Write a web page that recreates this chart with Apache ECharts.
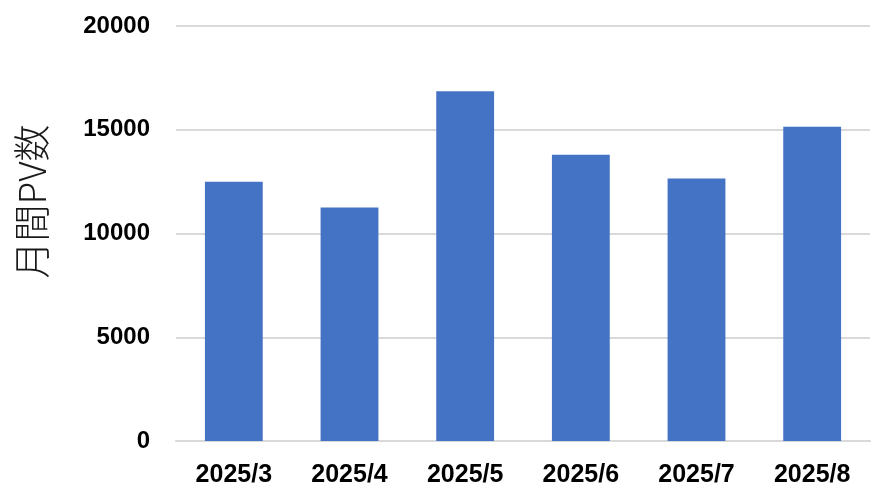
<!DOCTYPE html>
<html><head><meta charset="utf-8">
<script src="https://cdn.jsdelivr.net/npm/echarts@6/dist/echarts.min.js"></script>
<style>html,body{margin:0;padding:0;background:#fff}#c{width:894px;height:504px}</style>
</head><body><div id="c"></div>
<script>
const categories = ['2025/3','2025/4','2025/5','2025/6','2025/7','2025/8'];
const pvValues = [12500, 11250, 16850, 13800, 12650, 15150];
const yTicks = [0, 5000, 10000, 15000, 20000];
const yAxisTitle = '月間PV数';

const chart = echarts.init(document.getElementById('c'), null, {renderer:'canvas'});
chart.setOption({
  animation:false,
  grid:{left:176, right:24, top:26, bottom:63, containLabel:false},
  xAxis:{
    type:'category', data:categories,
    axisLine:{lineStyle:{color:'#D9D9D9', width:2}},
    axisTick:{show:false},
    axisLabel:{color:'#000', fontWeight:'bold', fontSize:25, margin:22, fontFamily:'"Liberation Sans", Arial, sans-serif'}
  },
  yAxis:{
    type:'value', min:yTicks[0], max:yTicks[yTicks.length-1], interval:5000,
    name:yAxisTitle, nameLocation:'middle', nameGap:126, nameRotate:90,
    nameTextStyle:{fontSize:37, color:'#1a1a1a', fontWeight:300, fontFamily:'"Noto Sans CJK JP", sans-serif', padding:[0,0,0,64]},
    axisLine:{show:false}, axisTick:{show:false},
    splitLine:{lineStyle:{color:'#D9D9D9', width:2}},
    axisLabel:{color:'#000', fontWeight:'bold', fontSize:24, margin:26, fontFamily:'"Liberation Sans", Arial, sans-serif',
      formatter:function(v){return String(v);}}
  },
  series:[{type:'bar', data:pvValues, barWidth:'50%', itemStyle:{color:'#4472C4'}}]
});
</script></body></html>
